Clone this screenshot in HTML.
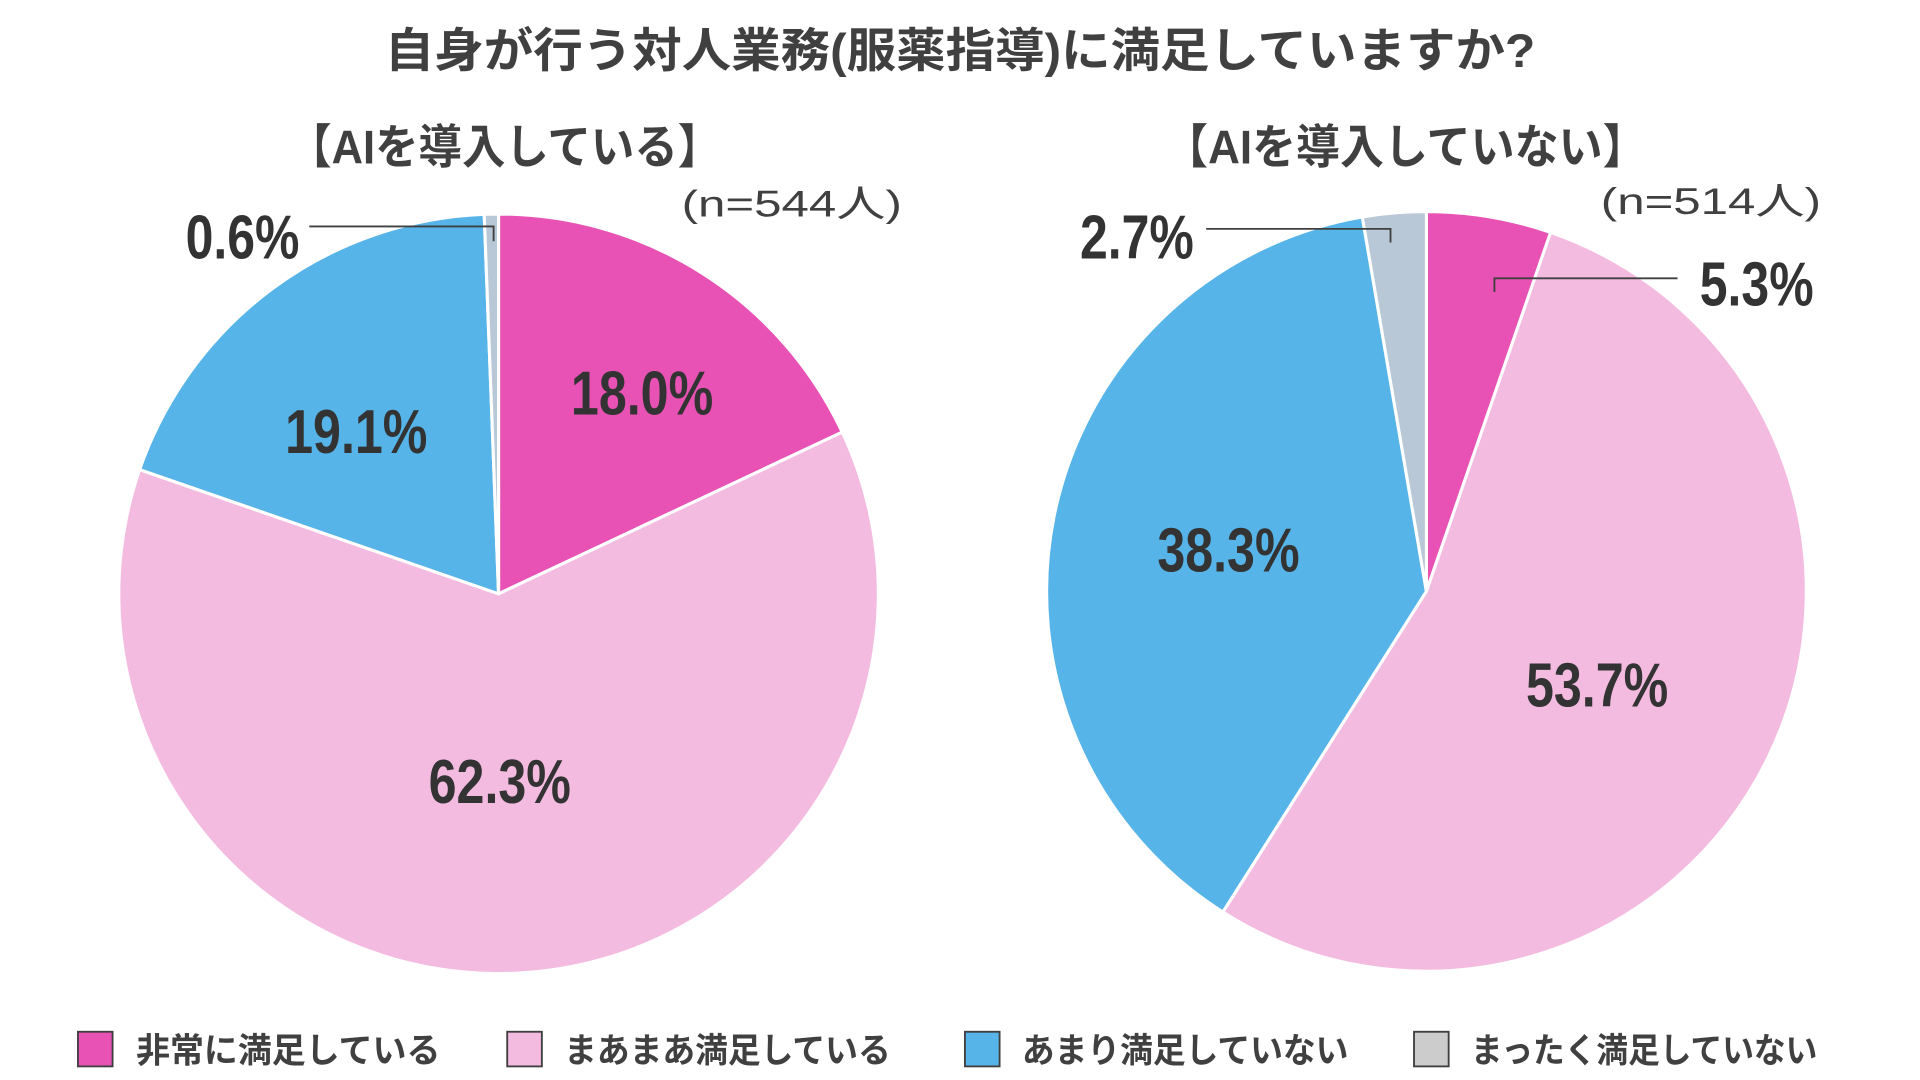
<!DOCTYPE html>
<html><head><meta charset="utf-8"><style>
html,body{margin:0;padding:0;background:#fff;width:1920px;height:1080px;overflow:hidden}
svg{display:block}
text{font-family:"Liberation Sans","Noto Sans CJK JP",sans-serif;fill:#404040}
.b{font-weight:bold}
.n{font-family:"Liberation Sans Narrow","Liberation Sans","Noto Sans CJK JP",sans-serif;font-weight:bold;fill:#333}
</style></head><body>
<svg width="1920" height="1080" viewBox="0 0 1552 873" preserveAspectRatio="none">
<text x="776" y="54" text-anchor="middle" class="b" font-size="38" textLength="930" lengthAdjust="spacingAndGlyphs">自身が行う対人業務(服薬指導)に満足していますか?</text>
<text x="408" y="132" text-anchor="middle" class="b" font-size="38" textLength="350" lengthAdjust="spacingAndGlyphs">【AIを導入している】</text>
<text x="1136" y="132" text-anchor="middle" class="b" font-size="38" textLength="390" lengthAdjust="spacingAndGlyphs">【AIを導入していない】</text>
<text x="640" y="175" text-anchor="middle" font-size="30" fill="#444" textLength="178" lengthAdjust="spacingAndGlyphs">(n=544人)</text>
<text x="1383" y="173" text-anchor="middle" font-size="30" fill="#444" textLength="178" lengthAdjust="spacingAndGlyphs">(n=514人)</text>

<g stroke="#fff" stroke-width="2.5" stroke-linejoin="round">
<path d="M403,480 L403,173 A307,307 0 0 1 680.8,349.3 Z" fill="#E852B4"/>
<path d="M403,480 L680.8,349.3 A307,307 0 1 1 112.9,379.6 Z" fill="#F4BBE0"/>
<path d="M403,480 L112.9,379.6 A307,307 0 0 1 391.4,173.2 Z" fill="#56B4E8"/>
<path d="M403,480 L391.4,173.2 A307,307 0 0 1 403,173 Z" fill="#B8C8D6"/>

<path d="M1153,478 L1153,171 A307,307 0 0 1 1253.4,187.9 Z" fill="#E852B4"/>
<path d="M1153,478 L1253.4,187.9 A307,307 0 1 1 988.5,737.2 Z" fill="#F4BBE0"/>
<path d="M1153,478 L988.5,737.2 A307,307 0 0 1 1101.2,175.4 Z" fill="#56B4E8"/>
<path d="M1153,478 L1101.2,175.4 A307,307 0 0 1 1153,171 Z" fill="#B8C8D6"/>
</g>

<g stroke="#404040" stroke-width="1.5" fill="none">
<path d="M250,183 H399 V195"/>
<path d="M975,185 H1124 V196"/>
<path d="M1356,225 H1208 V236"/>
</g>

<g font-size="50" class="n">
<text class="n" x="519" y="335" text-anchor="middle" textLength="115" lengthAdjust="spacingAndGlyphs">18.0%</text>
<text class="n" x="288" y="366" text-anchor="middle" textLength="115" lengthAdjust="spacingAndGlyphs">19.1%</text>
<text class="n" x="404" y="649" text-anchor="middle" textLength="115" lengthAdjust="spacingAndGlyphs">62.3%</text>
<text class="n" x="196" y="209" text-anchor="middle" textLength="92" lengthAdjust="spacingAndGlyphs">0.6%</text>
<text class="n" x="993" y="462" text-anchor="middle" textLength="115" lengthAdjust="spacingAndGlyphs">38.3%</text>
<text class="n" x="1291" y="571" text-anchor="middle" textLength="115" lengthAdjust="spacingAndGlyphs">53.7%</text>
<text class="n" x="919" y="209" text-anchor="middle" textLength="92" lengthAdjust="spacingAndGlyphs">2.7%</text>
<text class="n" x="1420" y="247" text-anchor="middle" textLength="92" lengthAdjust="spacingAndGlyphs">5.3%</text>
</g>

<g stroke="#404040" stroke-width="1.5">
<rect x="63" y="834" width="28" height="28" fill="#E852B4"/>
<rect x="410" y="834" width="28" height="28" fill="#F4BBE0"/>
<rect x="780" y="834" width="28" height="28" fill="#56B4E8"/>
<rect x="1143" y="834" width="28" height="28" fill="#CCCCCC"/>
</g>
<g font-size="28" class="b">
<text class="b" x="110" y="859" textLength="246" lengthAdjust="spacingAndGlyphs">非常に満足している</text>
<text class="b" x="456" y="859" textLength="264" lengthAdjust="spacingAndGlyphs">まあまあ満足している</text>
<text class="b" x="826" y="859" textLength="264" lengthAdjust="spacingAndGlyphs">あまり満足していない</text>
<text class="b" x="1189" y="859" textLength="280" lengthAdjust="spacingAndGlyphs">まったく満足していない</text>
</g>
</svg>
</body></html>
